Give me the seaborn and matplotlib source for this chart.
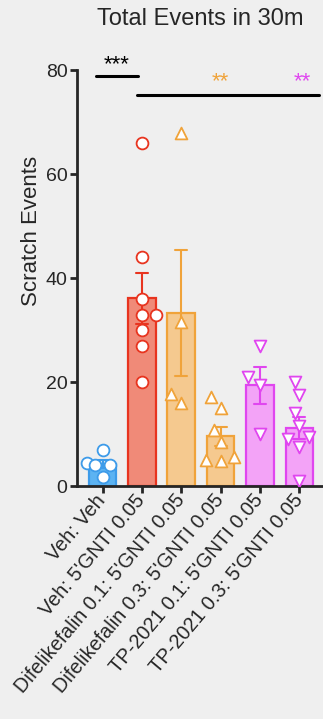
import numpy as np
import pandas as pd
import matplotlib
matplotlib.use("Agg")
import matplotlib.pyplot as plt
import seaborn as sns

GROUPS = ["Veh: Veh", "Veh: 5'GNTI 0.05", "Difelikefalin 0.1: 5'GNTI 0.05",
          "Difelikefalin 0.3: 5'GNTI 0.05", "TP-2021 0.1: 5'GNTI 0.05", "TP-2021 0.3: 5'GNTI 0.05"]

veh_veh = [7, 4.5, 4, 4, 1.8]
veh_gnti = [66, 44, 36, 33, 33, 30, 27, 20]
dif_01 = [68, 31.6, 15.9, 17.8]
dif_03 = [17.1, 15.1, 10.8, 8.5, 5.6, 5.0, 4.8]
tp_01 = [27, 21, 19.5, 10]
tp_03 = [20, 17.5, 14, 11.5, 9.5, 9, 7.5, 1]

EDGE = ["#3d9be9", "#e8341f", "#f0a33a", "#f0a33a", "#e046ef", "#e046ef"]
FILL = ["#5cb3f2", "#f08a78", "#f5c98f", "#f5c98f", "#f3a3f7", "#f3a3f7"]
MARKERS = ["o", "o", "^", "^", "v", "v"]

BG = "#efefef"

values = [veh_veh, veh_gnti, dif_01, dif_03, tp_01, tp_03]
df = pd.DataFrame({
    "group": np.repeat(GROUPS, [len(v) for v in values]),
    "events": np.concatenate(values),
})

sns.set_style("ticks")
plt.rcParams["font.family"] = ["Liberation Sans", "DejaVu Sans"]

fig = plt.figure(figsize=(3.23, 7.19), dpi=100, facecolor=BG)
ax = fig.add_axes([0.237, 0.324, 0.763, 0.578], facecolor=BG)

for i, g in enumerate(GROUPS):
    sub = df[df.group == g]
    sns.barplot(data=sub, x="group", y="events", order=GROUPS, color=FILL[i],
                edgecolor=EDGE[i], linewidth=1.6, width=0.7, saturation=1,
                errorbar="se", capsize=0.3,
                err_kws={"color": EDGE[i], "linewidth": 1.5}, ax=ax)
for i, g in enumerate(GROUPS):
    sub = df[df.group == g]
    sns.swarmplot(data=sub, x="group", y="events", order=GROUPS, color="white",
                  edgecolor=EDGE[i], linewidth=1.3, marker=MARKERS[i], size=8.5,
                  ax=ax, zorder=5, warn_thresh=1)

ax.set_xlim(-0.66, 5.6)
ax.set_ylim(0, 80)
ax.set_yticks([0, 20, 40, 60, 80])
ax.tick_params(axis="y", labelsize=14, width=2, length=5, pad=1.5)
ax.tick_params(axis="x", labelsize=14.3, width=2, length=5, pad=3)
ax.set_xticks(range(len(GROUPS)))
ax.set_xticklabels(GROUPS, rotation=50, ha="right", va="center", rotation_mode="anchor")
ax.set_xlabel("")
ax.set_ylabel("Scratch Events", fontsize=16)
ax.yaxis.set_label_coords(-0.14, 0.615)
for s in ["left", "bottom"]:
    ax.spines[s].set_linewidth(2)
sns.despine(ax=ax)

# significance markers
ax.plot([-0.17, 0.9], [79, 79], color="black", lw=2.2, clip_on=False)
ax.text(0.36, 79.0, "***", ha="center", va="bottom", fontsize=16, color="black")
ax.plot([0.87, 5.5], [75.2, 75.2], color="black", lw=2.2, clip_on=False)
ax.text(3.0, 75.8, "**", ha="center", va="bottom", fontsize=16, color=EDGE[2])
ax.text(5.07, 75.8, "**", ha="center", va="bottom", fontsize=16, color=EDGE[4])

fig.text(0.62, 0.973, "Total Events in 30m", ha="center", va="center", fontsize=17)

fig.savefig("out.png", dpi=100, facecolor=BG)
